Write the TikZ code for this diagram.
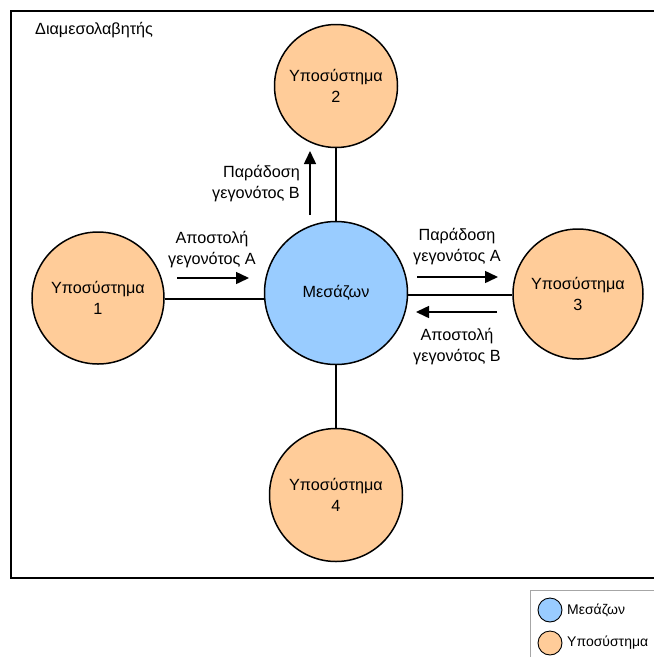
\documentclass[tikz,border=0pt]{standalone}
\usepackage{fontspec}
\setmainfont{Liberation Sans}
\usetikzlibrary{arrows.meta}
\definecolor{subfill}{HTML}{FFCC99}
\definecolor{brokerfill}{HTML}{99CCFF}
\begin{document}
\begin{tikzpicture}[x=1pt,y=-1pt,
  txt/.style={font=\fontsize{16.2}{21}\selectfont},
  legtxt/.style={font=\fontsize{14}{17}\selectfont},
  sub/.style={circle,draw=black,line width=1.5pt,fill=subfill,inner sep=0pt,
              align=center,txt},
  broker/.style={circle,draw=black,line width=1.5pt,fill=brokerfill,inner sep=0pt,txt},
  link/.style={draw=black,line width=1.5pt},
  flow/.style={draw=black,line width=1.5pt,-{Triangle[length=13pt,width=12pt]}},
  lbl/.style={align=center,txt,inner sep=0pt},
  legcirc/.style={circle,draw=black,line width=0.9pt,minimum size=24pt,inner sep=0pt}
]
\useasboundingbox (0,0) rectangle (654,657);
% mediator frame
\draw[line width=2pt] (11,11) rectangle (670,578);
\node[anchor=west,txt,inner sep=0pt] (title) at (35,30) {Διαμεσολαβητής};

% broker and subsystems
\node[broker,minimum size=143pt] (m) at (336,293) {Μεσάζων};
\node[sub,minimum size=132pt] (s1) at (98,298) {Υποσύστημα\\1};
\node[sub,minimum size=123pt] (s2) at (336,86) {Υποσύστημα\\2};
\node[sub,minimum size=130pt] (s3) at (578,294) {Υποσύστημα\\3};
\node[sub,minimum size=133pt] (s4) at (336,495) {Υποσύστημα\\4};

% connections
\draw[link] (s1.east |- 0,299) -- (m.west |- 0,299);
\draw[link] (m.east |- 0,295) -- (s3.west |- 0,295);
\draw[link] (m.north) -- (s2.south);
\draw[link] (m.south) -- (s4.north);

% event flows
\coordinate (a1s) at (177,278); \coordinate (a1e) at (249,278);
\draw[flow] (a1s) -- (a1e);
\node[lbl] (l1) at (212,250) {Αποστολή\\γεγονότος A};

\coordinate (a2s) at (310,215); \coordinate (a2e) at (310,151);
\draw[flow] (a2s) -- (a2e);
\node[lbl,anchor=east,align=right] (l2) at (300,184) {Παράδοση\\γεγονότος B};

\coordinate (a3s) at (417,277); \coordinate (a3e) at (498,277);
\draw[flow] (a3s) -- (a3e);
\node[lbl] (l3) at (457,247) {Παράδοση\\γεγονότος A};

\coordinate (a4s) at (497,312); \coordinate (a4e) at (416,312);
\draw[flow] (a4s) -- (a4e);
\node[lbl] (l4) at (457,347) {Αποστολή\\γεγονότος B};

% legend
\draw[draw=gray!70,line width=0.8pt] (530,590) rectangle (670,670);
\node[legcirc,fill=brokerfill] (k1) at (550,610) {};
\node[anchor=west,legtxt,inner sep=0pt] (k1t) at (567,610) {Μεσάζων};
\node[legcirc,fill=subfill] (k2) at (550,643) {};
\node[anchor=west,legtxt,inner sep=0pt] (k2t) at (567,643) {Υποσύστημα};
\end{tikzpicture}
\end{document}
